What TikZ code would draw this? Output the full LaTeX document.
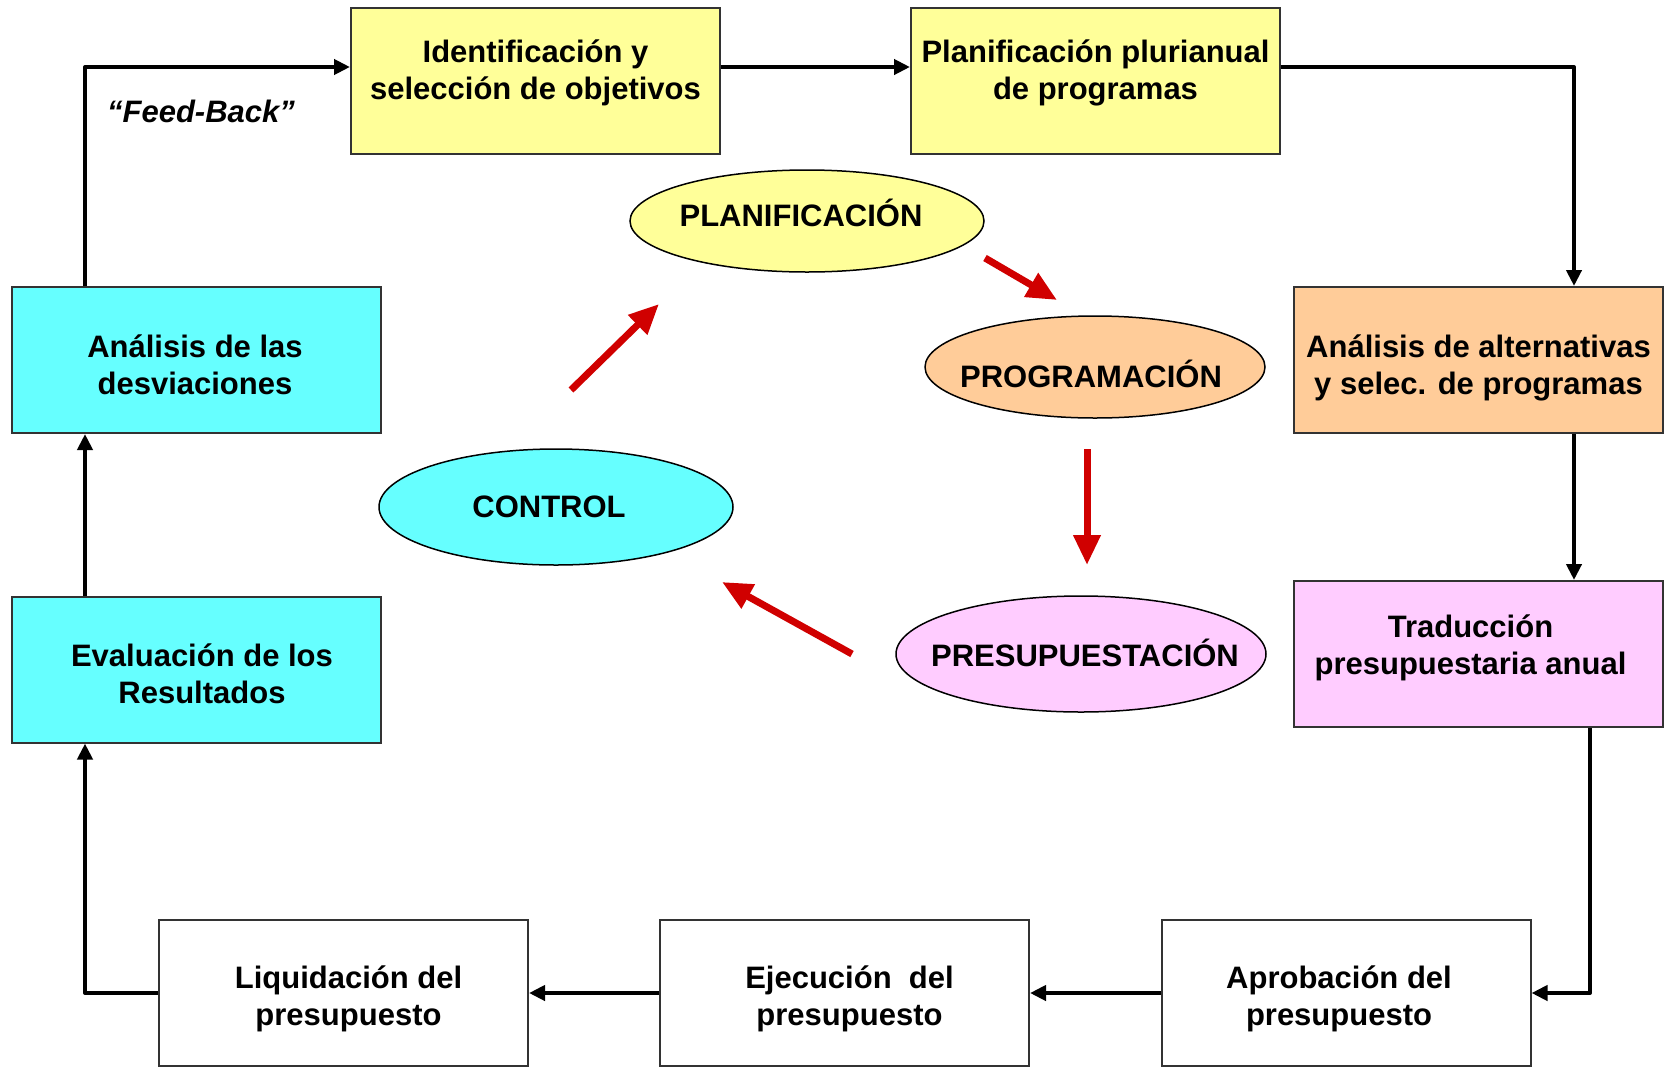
\documentclass[tikz,border=0pt]{standalone}
\usepackage{fontspec}
\setmainfont{Liberation Sans}
\usetikzlibrary{arrows.meta,shapes.geometric,calc}
\definecolor{cyel}{HTML}{FFFF99}
\definecolor{corange}{HTML}{FFCC99}
\definecolor{ccyan}{HTML}{66FFFF}
\definecolor{cpink}{HTML}{FFCCFF}
\definecolor{cred}{HTML}{D00000}
\begin{document}
\begin{tikzpicture}[x=1pt,y=-1pt,
  box/.style={draw=black!80,line width=2pt,minimum width=369pt,minimum height=146pt,inner sep=0pt},
  boxtext/.style={align=center,font=\fontsize{31}{37}\selectfont\bfseries,inner sep=0pt},
  ell/.style={ellipse,draw=black,line width=1.5pt,inner sep=0pt},
  elltext/.style={font=\fontsize{31}{37}\selectfont\bfseries,inner sep=0pt},
  conn/.style={line width=4pt,line join=round,-{Triangle[length=16pt,width=15pt]}},
  redarr/.style={draw=cred,line width=7pt,-{Triangle[length=30pt,width=26pt]}},
]
\useasboundingbox (0,0) rectangle (1665,1066);

% boxes
\node[box,fill=cyel,label={[boxtext,yshift=8pt]center:Identificación y\\selección de objetivos}] (ident) at (535.5,81) {};
\node[box,fill=cyel,label={[boxtext,yshift=8pt]center:Planificación plurianual\\de programas}] (plur) at (1095.5,81) {};
\node[box,fill=corange,label={[boxtext,yshift=-8pt]center:Análisis de alternativas\\y selec. de programas}] (alt) at (1478.5,360) {};
\node[box,fill=cpink,label={[boxtext,yshift=6pt,xshift=-8pt]center:Traducción\\presupuestaria anual}] (trad) at (1478.5,654) {};
\node[box,fill=white,label={[boxtext,yshift=-6pt,xshift=-7pt]center:Aprobación del\\presupuesto}] (aprob) at (1346,993) {};
\node[box,fill=white,label={[boxtext,yshift=-6pt,xshift=5pt]center:Ejecución \ del\\presupuesto}] (ejec) at (844.5,993) {};
\node[box,fill=white,label={[boxtext,yshift=-6pt,xshift=5pt]center:Liquidación del\\presupuesto}] (liq) at (343.5,993) {};
\node[box,fill=ccyan,label={[boxtext,yshift=-4pt,xshift=6pt]center:Evaluación de los\\Resultados}] (eval) at (196,669.5) {};
\node[box,fill=ccyan,label={[boxtext,yshift=-5pt,xshift=-1pt]center:Análisis de las\\desviaciones}] (desv) at (196,360) {};

% ellipses
\node[ell,fill=cyel,minimum width=354pt,minimum height=102pt,label={[elltext,xshift=-6pt,yshift=8pt]center:PLANIFICACIÓN}] (plan) at (807,221) {};
\node[ell,fill=corange,minimum width=340pt,minimum height=102pt,label={[elltext,xshift=-4pt,yshift=-7pt]center:PROGRAMACIÓN}] (prog) at (1095,367) {};
\node[ell,fill=ccyan,minimum width=354pt,minimum height=116pt,label={[elltext,xshift=-7pt]center:CONTROL}] (ctrl) at (556,507) {};
\node[ell,fill=cpink,minimum width=370pt,minimum height=116pt,label={[elltext,xshift=4pt,yshift=1pt]center:PRESUPUESTACIÓN}] (pres) at (1081,654) {};

% feed-back label
\node[font=\fontsize{31}{36}\selectfont\bfseries\itshape,inner sep=0pt] (fb) at (201,111) {“Feed-Back”};

% helper coordinates
\coordinate (fbx) at (85,0);
\coordinate (ty) at (0,67);
\coordinate (rx) at (1574,0);
\coordinate (rx2) at (1590,0);

% black connectors
\draw[conn] (desv.north -| fbx) |- (ident.west |- ty);
\draw[conn] (ident.east |- ty) -- (plur.west |- ty);
\draw[conn] (plur.east |- ty) -| (rx |- alt.north);
\draw[conn] (alt.south -| rx) -- (trad.north -| rx);
\draw[conn] (trad.south -| rx2) |- (aprob.east);
\draw[conn] (aprob.west) -- (ejec.east);
\draw[conn] (ejec.west) -- (liq.east);
\draw[conn] (liq.west) -| (fbx |- eval.south);
\draw[conn] (eval.north -| fbx) -- (desv.south -| fbx);

% red cycle arrows
\coordinate (a1s) at (985,258); \coordinate (a1e) at (1057,300);
\coordinate (a2s) at (1087,449); \coordinate (a2e) at (1087,565);
\coordinate (a3s) at (852,654); \coordinate (a3e) at (722,582);
\coordinate (a4s) at (571,390); \coordinate (a4e) at (659,304);
\draw[redarr] (a1s) -- (a1e);
\draw[redarr] (a2s) -- (a2e);
\draw[redarr] (a3s) -- (a3e);
\draw[redarr] (a4s) -- (a4e);
\end{tikzpicture}
\end{document}
